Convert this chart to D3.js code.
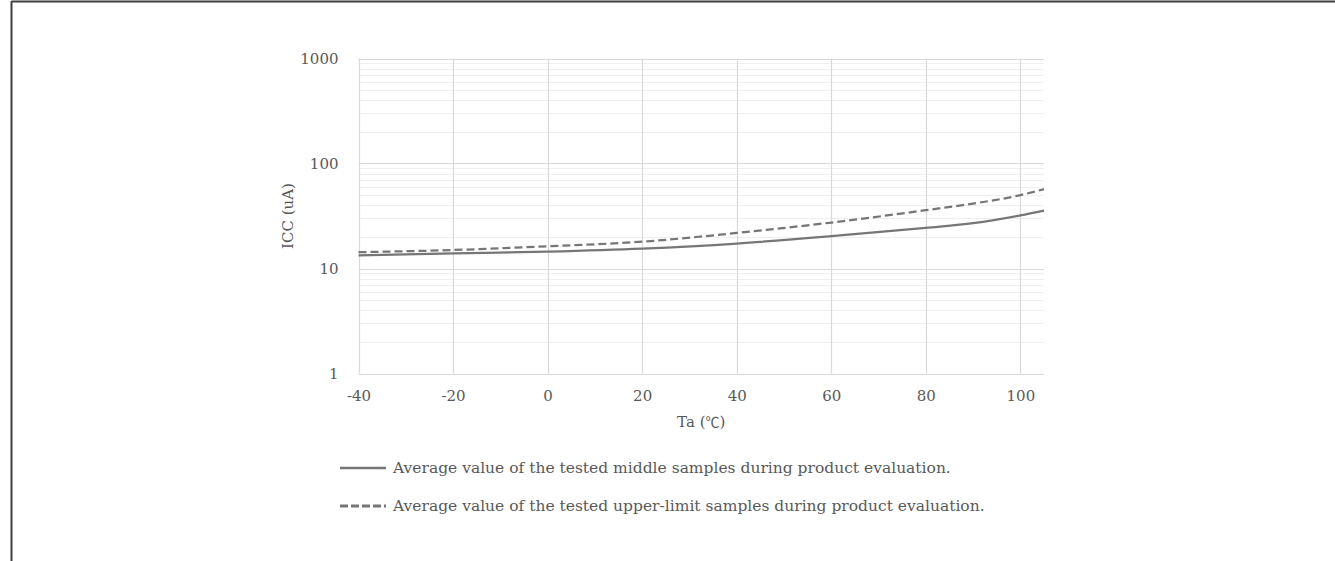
<!DOCTYPE html>
<html><head><meta charset="utf-8">
<script src="https://cdn.jsdelivr.net/npm/d3@7"></script>
<style>html,body{margin:0;padding:0;background:#fff;} svg{display:block;}</style>
</head><body>
<svg id="chart" width="1335" height="561"></svg>
<script>
const temps = [-40, -20, 0, 20, 40, 60, 80, 90, 100, 105];
const middleValues = [13.3, 13.9, 14.5, 15.5, 17.3, 20.3, 24.4, 27.0, 32.0, 35.5];
const upperValues  = [14.3, 15.0, 16.3, 18.0, 21.8, 27.4, 35.9, 41.5, 50.0, 57.0];
const xTicks = [-40, -20, 0, 20, 40, 60, 80, 100];
const yTicks = [1, 10, 100, 1000];
const seriesNames = [
  "Average value of the tested middle samples during product evaluation.",
  "Average value of the tested upper-limit samples during product evaluation."
];
const xTitleMain = "Ta (";
const xTitleUnit = "\u2103";
const xTitleEnd = ")";
const yTitle = "ICC (uA)";

const svg = d3.select("#chart");
const font = "'DejaVu Serif', 'Liberation Serif', serif";
const textColor = "#595959";
const lineColor = "#767676";

// frame
svg.append("line").attr("x1", 11.5).attr("x2", 1335).attr("y1", 1.5).attr("y2", 1.5).attr("stroke", "#3f3f3f").attr("stroke-width", 2);
svg.append("line").attr("x1", 11.5).attr("x2", 11.5).attr("y1", 1).attr("y2", 561).attr("stroke", "#3f3f3f").attr("stroke-width", 2);

const L = 358.5, R = 1044, T = 58.5, B = 373.5;
const x = d3.scaleLinear().domain([-40, 105]).range([L, R]);
const y = d3.scaleLog().domain([1, 1000]).range([B, T]);

// minor gridlines
const minor = [];
for (let d = 1; d < 1000; d *= 10) for (let k = 2; k <= 9; k++) minor.push(d * k);
svg.append("g").selectAll("line").data(minor).join("line")
  .attr("x1", L).attr("x2", R)
  .attr("y1", d => Math.round(y(d)) + 0.5).attr("y2", d => Math.round(y(d)) + 0.5)
  .attr("stroke", "#efefef").attr("stroke-width", 1);

// major gridlines
svg.append("g").selectAll("line").data(yTicks).join("line")
  .attr("x1", L).attr("x2", R)
  .attr("y1", d => Math.round(y(d)) + 0.5).attr("y2", d => Math.round(y(d)) + 0.5)
  .attr("stroke", "#d9d9d9").attr("stroke-width", 1.2);
svg.append("g").selectAll("line").data(xTicks).join("line")
  .attr("x1", d => Math.round(x(d)) + 0.5).attr("x2", d => Math.round(x(d)) + 0.5)
  .attr("y1", T).attr("y2", B)
  .attr("stroke", "#d9d9d9").attr("stroke-width", 1.2);

// axes (labels only)
const fmt = d => String(d);
const xAxis = svg.append("g").attr("transform", `translate(0,${B})`)
  .call(d3.axisBottom(x).tickValues(xTicks).tickSize(0).tickPadding(17).tickFormat(fmt));
const yAxis = svg.append("g").attr("transform", `translate(${L},0)`)
  .call(d3.axisLeft(y).tickValues(yTicks).tickSize(0).tickPadding(20).tickFormat(fmt));
[xAxis, yAxis].forEach(g => {
  g.select(".domain").remove();
  g.selectAll("text").attr("fill", textColor).style("font-family", font).style("font-size", "15px");
});

// lines
const line = d3.line().x(d => x(d[0])).y(d => y(d[1])).curve(d3.curveMonotoneX);
svg.append("path").datum(temps.map((t, i) => [t, middleValues[i]]))
  .attr("d", line).attr("fill", "none").attr("stroke", lineColor).attr("stroke-width", 2.25);
svg.append("path").datum(temps.map((t, i) => [t, upperValues[i]]))
  .attr("d", line).attr("fill", "none").attr("stroke", lineColor).attr("stroke-width", 2.25)
  .attr("stroke-dasharray", "8,4");

// titles
const xt = svg.append("text").attr("x", (L + R) / 2).attr("y", 427).attr("text-anchor", "middle")
  .attr("fill", textColor).style("font-family", font).style("font-size", "15px");
xt.append("tspan").text(xTitleMain);
xt.append("tspan").style("font-family", "'Noto Sans CJK JP', sans-serif").style("font-size", "14px").text(xTitleUnit);
xt.append("tspan").text(xTitleEnd);
svg.append("text").attr("transform", `translate(293,${(T + B) / 2}) rotate(-90)`).attr("text-anchor", "middle")
  .attr("fill", textColor).style("font-family", font).style("font-size", "15px").text(yTitle);

// legend
const legY = [468, 506];
const leg = svg.append("g");
seriesNames.forEach((name, i) => {
  leg.append("line").attr("x1", 340).attr("x2", 386).attr("y1", legY[i]).attr("y2", legY[i])
    .attr("stroke", lineColor).attr("stroke-width", i === 1 ? 3 : 2.5)
    .attr("stroke-dasharray", i === 1 ? "8,3" : null);
  leg.append("text").attr("x", 393).attr("y", legY[i] + 5)
    .attr("fill", textColor).style("font-family", font).style("font-size", "15.5px").text(name);
});
</script>
</body></html>
